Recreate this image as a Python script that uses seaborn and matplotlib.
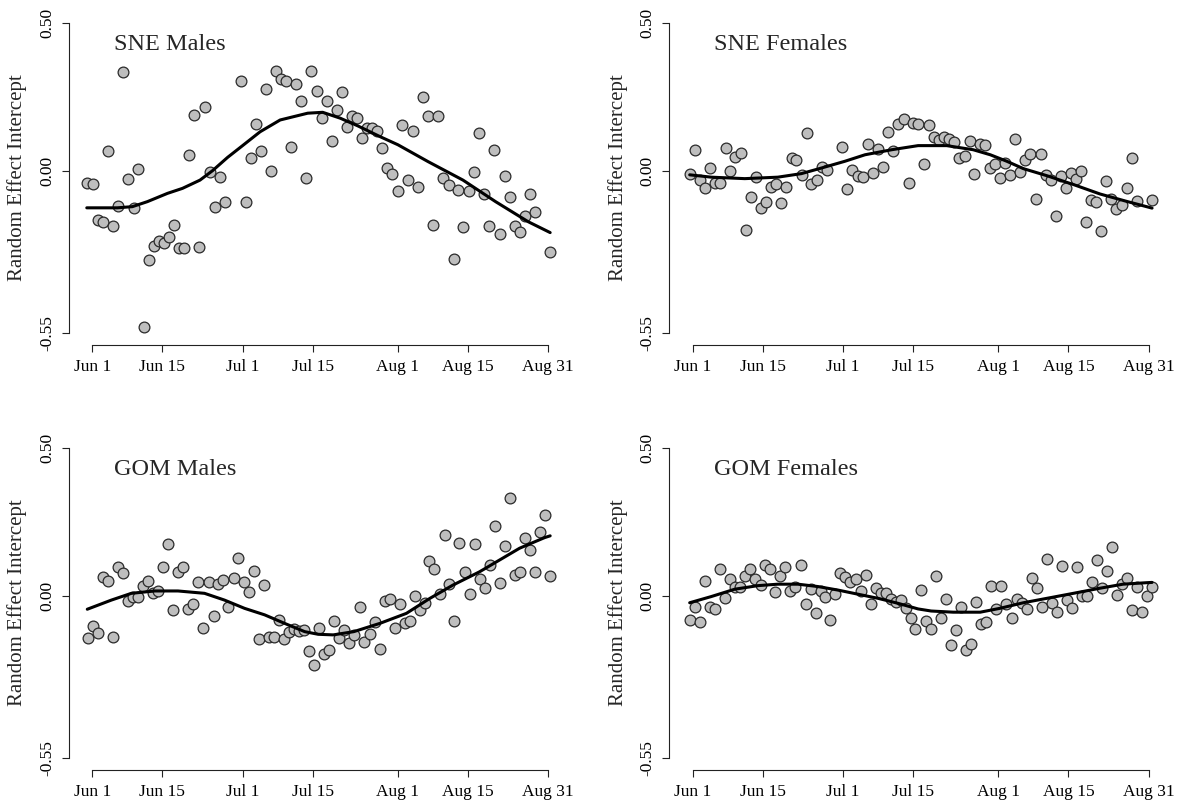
import numpy as np
import pandas as pd
import matplotlib
matplotlib.use("Agg")
import matplotlib.pyplot as plt
import seaborn as sns

# ---------------- data (day 0 = Jun 1) ----------------
tick_days = [0, 14, 30, 44, 61, 75, 91]
tick_labels = ["Jun 1", "Jun 15", "Jul 1", "Jul 15", "Aug 1", "Aug 15", "Aug 31"]
ytick_vals = [-0.55, 0.0, 0.5]
ytick_labels = ["-0.55", "0.00", "0.50"]
panel_titles = ["SNE Males", "SNE Females", "GOM Males", "GOM Females"]
ylabel_text = "Random Effect Intercept"

sne_m_day = [-1.1, 0.1, 1.1, 2.1, 3.2, 4.1, 5.2, 6.2, 7.2, 8.3,
             9.2, 10.3, 11.3, 12.3, 13.3, 14.3, 15.3, 16.4, 17.4, 18.4,
             19.4, 20.4, 21.4, 22.4, 23.5, 24.5, 25.5, 26.5, 29.7, 30.6,
             31.6, 32.6, 33.6, 34.6, 35.6, 36.6, 37.6, 38.7, 39.7, 40.7,
             41.7, 42.7, 43.7, 44.8, 45.8, 46.8, 47.8, 48.8, 49.8, 50.8,
             51.8, 52.8, 53.8, 54.8, 55.9, 56.9, 57.9, 58.9, 59.9, 61.0,
             61.9, 63.0, 64.1, 65.0, 66.1, 67.1, 68.1, 69.1, 70.1, 71.2,
             72.2, 73.1, 74.1, 75.2, 76.2, 77.2, 78.2, 79.2, 80.2, 81.3,
             82.3, 83.3, 84.3, 85.3, 86.4, 87.4, 88.4, 91.4]
sne_m_val = [-0.043, -0.046, -0.167, -0.173, 0.067, -0.188, -0.119, 0.336, -0.028, -0.126,
             0.005, -0.529, -0.303, -0.254, -0.238, -0.244, -0.226, -0.183, -0.261, -0.261,
             0.052, 0.189, -0.258, 0.217, -0.003, -0.122, -0.020, -0.105, 0.304, -0.105,
             0.042, 0.158, 0.068, 0.277, -0.002, 0.339, 0.311, 0.305, 0.079, 0.294,
             0.237, -0.026, 0.339, 0.270, 0.180, 0.236, 0.102, 0.206, 0.268, 0.147,
             0.186, 0.180, 0.112, 0.144, 0.146, 0.136, 0.078, 0.008, -0.010, -0.069,
             0.155, -0.032, 0.135, -0.054, 0.249, 0.187, -0.184, 0.187, -0.026, -0.049,
             -0.301, -0.065, -0.190, -0.069, -0.003, 0.129, -0.079, -0.187, 0.071, -0.215,
             -0.017, -0.090, -0.188, -0.208, -0.153, -0.078, -0.140, -0.275]
sne_m_fit_day = [-1.1, 5, 8, 11, 15, 18, 21.5, 24, 27, 30, 33.5, 37.5, 43, 46, 49.5,
                 53, 57.5, 61, 67, 74, 80.5, 87, 91.4]
sne_m_fit_val = [-0.126, -0.126, -0.122, -0.105, -0.077, -0.060, -0.032, 0.000, 0.045,
                 0.085, 0.132, 0.172, 0.195, 0.198, 0.178, 0.152, 0.115, 0.088, 0.031,
                 -0.032, -0.105, -0.173, -0.210]

sne_f_day = [-0.6, 0.4, 1.4, 2.5, 3.4, 4.5, 5.5, 6.6, 7.5, 8.5,
             9.6, 10.6, 11.7, 12.7, 13.6, 14.6, 15.7, 16.7, 17.7, 18.7,
             19.8, 20.7, 21.8, 22.8, 23.7, 24.8, 25.9, 26.9, 29.9, 30.9,
             31.9, 32.9, 33.9, 34.9, 35.9, 37.0, 38.0, 38.9, 40.0, 41.0,
             42.1, 43.1, 44.0, 45.0, 46.1, 47.1, 48.1, 49.1, 50.2, 51.2,
             52.2, 53.2, 54.3, 55.3, 56.2, 57.3, 58.3, 59.3, 60.3, 61.3,
             62.4, 63.3, 64.4, 65.4, 66.4, 67.4, 68.5, 69.5, 70.5, 71.5,
             72.5, 73.5, 74.5, 75.5, 76.5, 77.6, 78.5, 79.5, 80.6, 81.6,
             82.6, 83.6, 84.6, 85.6, 86.6, 87.7, 88.7, 91.7]
sne_f_val = [-0.011, 0.071, -0.031, -0.059, 0.009, -0.042, -0.042, 0.077, 0.000, 0.045,
             0.060, -0.200, -0.088, -0.022, -0.127, -0.106, -0.054, -0.046, -0.110, -0.055,
             0.043, 0.036, -0.014, 0.128, -0.045, -0.031, 0.012, 0.001, 0.080, -0.061,
             0.001, -0.019, -0.020, 0.091, -0.007, 0.075, 0.012, 0.132, 0.068, 0.159,
             0.176, -0.042, 0.163, 0.159, 0.024, 0.156, 0.113, 0.103, 0.113, 0.109,
             0.097, 0.043, 0.051, 0.102, -0.012, 0.092, 0.088, 0.009, 0.023, -0.026,
             0.026, -0.014, 0.108, -0.005, 0.035, 0.057, -0.095, 0.058, -0.014, -0.031,
             -0.155, -0.019, -0.058, -0.009, -0.028, -0.002, -0.173, -0.099, -0.105, -0.206,
             -0.034, -0.095, -0.129, -0.117, -0.059, 0.044, -0.102, -0.098]
sne_f_fit_day = [-0.6, 3.7, 10.4, 17, 21.7, 25.7, 30.4, 34.4, 39.7, 45, 50.7, 56,
                 59.4, 62.7, 66, 70.7, 76, 81.3, 86.6, 91.7]
sne_f_fit_val = [-0.014, -0.022, -0.027, -0.022, -0.010, 0.009, 0.032, 0.054, 0.071,
                 0.085, 0.085, 0.071, 0.054, 0.032, 0.007, -0.017, -0.047, -0.079,
                 -0.104, -0.127]

gom_m_day = [-0.9, 0.1, 1.1, 2.1, 3.1, 4.1, 5.1, 6.1, 7.1, 8.1,
             9.1, 10.1, 11.1, 12.1, 13.1, 14.1, 15.1, 16.2, 17.2, 18.2,
             19.2, 20.2, 21.2, 22.1, 23.2, 24.2, 25.1, 26.1, 27.1, 28.2,
             29.1, 30.2, 31.2, 32.2, 33.2, 34.3, 35.3, 36.3, 37.3, 38.3,
             39.3, 40.3, 41.3, 42.3, 43.3, 44.3, 45.3, 46.3, 47.3, 48.3,
             49.3, 50.2, 51.2, 52.2, 53.4, 54.2, 55.4, 56.4, 57.4, 58.4,
             59.4, 60.4, 61.4, 62.4, 63.4, 64.4, 65.4, 66.4, 67.3, 68.3,
             69.4, 70.4, 71.3, 72.3, 73.3, 74.3, 75.3, 76.4, 77.4, 78.4,
             79.4, 80.4, 81.4, 82.4, 83.4, 84.4, 85.4, 86.4, 87.4, 88.4,
             89.4, 90.4, 91.4]
gom_m_val = [-0.145, -0.103, -0.126, 0.064, 0.051, -0.139, 0.096, 0.076, -0.018, -0.003,
             -0.003, 0.033, 0.051, 0.010, 0.016, 0.098, 0.175, -0.047, 0.079, 0.096,
             -0.045, -0.029, 0.047, -0.109, 0.047, -0.068, 0.039, 0.053, -0.038, 0.059,
             0.128, 0.047, 0.012, 0.085, -0.147, 0.037, -0.139, -0.139, -0.081, -0.146,
             -0.122, -0.113, -0.119, -0.117, -0.188, -0.236, -0.109, -0.199, -0.184, -0.085,
             -0.145, -0.116, -0.161, -0.133, -0.037, -0.156, -0.130, -0.090, -0.181, -0.017,
             -0.012, -0.109, -0.028, -0.094, -0.085, 0.000, -0.049, -0.026, 0.118, 0.090,
             0.005, 0.206, 0.040, -0.085, 0.178, 0.081, 0.005, 0.174, 0.057, 0.025,
             0.104, 0.236, 0.044, 0.170, 0.330, 0.070, 0.079, 0.195, 0.155, 0.079,
             0.215, 0.274, 0.068]
gom_m_fit_day = [-1.0, 3.8, 7.8, 12.5, 17.1, 22.4, 26.4, 30.4, 34.4, 38.4, 42.4, 45.1,
                 48.1, 52.2, 57.4, 62.7, 67.4, 72, 77.3, 81.3, 85.3, 90.3, 91.4]
gom_m_fit_val = [-0.046, -0.015, 0.008, 0.016, 0.016, 0.008, -0.015, -0.043, -0.065,
                 -0.094, -0.122, -0.131, -0.133, -0.122, -0.094, -0.060, -0.009, 0.036,
                 0.081, 0.121, 0.161, 0.197, 0.203]

gom_f_day = [-0.6, 0.4, 1.4, 2.5, 3.4, 4.4, 5.4, 6.5, 7.5, 8.5,
             9.5, 10.5, 11.5, 12.5, 13.6, 14.5, 15.5, 16.5, 17.5, 18.5,
             19.5, 20.5, 21.6, 22.6, 23.6, 24.6, 25.6, 26.5, 27.5, 28.5,
             29.5, 30.5, 31.5, 32.5, 33.5, 34.6, 35.6, 36.6, 37.6, 38.6,
             39.6, 40.6, 41.6, 42.6, 43.6, 44.4, 45.6, 46.6, 47.6, 48.5,
             49.6, 50.6, 51.6, 52.6, 53.6, 54.6, 55.6, 56.6, 57.6, 58.6,
             59.6, 60.6, 61.6, 62.6, 63.7, 64.7, 65.7, 66.7, 67.7, 68.7,
             69.7, 70.7, 71.7, 72.7, 73.7, 74.7, 75.7, 76.7, 77.7, 78.7,
             79.7, 80.7, 81.7, 82.7, 83.7, 84.7, 85.7, 86.7, 87.7, 88.7,
             89.7, 90.7, 91.7]
gom_f_val = [-0.082, -0.037, -0.088, 0.051, -0.037, -0.045, 0.090, -0.007, 0.056, 0.028,
             0.031, 0.068, 0.090, 0.056, 0.036, 0.104, 0.090, 0.014, 0.068, 0.096,
             0.017, 0.028, 0.104, -0.029, 0.022, -0.060, 0.017, -0.003, -0.082, 0.006,
             0.076, 0.064, 0.047, 0.056, 0.016, 0.070, -0.029, 0.025, 0.010, 0.010,
             -0.012, -0.022, -0.015, -0.042, -0.077, -0.114, 0.018, -0.086, -0.112, 0.068,
             -0.075, -0.012, -0.167, -0.116, -0.037, -0.184, -0.165, -0.020, -0.097, -0.088,
             0.033, -0.046, 0.033, -0.029, -0.077, -0.011, -0.026, -0.045, 0.059, 0.025,
             -0.037, 0.123, -0.024, -0.056, 0.102, -0.015, -0.043, 0.098, 0.000, -0.001,
             0.047, 0.121, 0.025, 0.085, 0.166, 0.002, 0.039, 0.059, -0.049, 0.031,
             -0.056, 0.000, 0.028]
gom_f_fit_day = [-0.6, 3.7, 8.4, 13, 17, 21, 25, 29, 33, 37, 41, 45, 47.6, 52, 57.4,
                 61.3, 66, 70.7, 76, 81.2, 85.9, 90.6, 91.7]
gom_f_fit_val = [-0.024, -0.003, 0.022, 0.034, 0.039, 0.039, 0.031, 0.019, 0.005, -0.009,
                 -0.026, -0.045, -0.052, -0.056, -0.056, -0.043, -0.024, -0.009, 0.008,
                 0.025, 0.039, 0.044, 0.045]

panels = [
    (sne_m_day, sne_m_val, sne_m_fit_day, sne_m_fit_val),
    (sne_f_day, sne_f_val, sne_f_fit_day, sne_f_fit_val),
    (gom_m_day, gom_m_val, gom_m_fit_day, gom_m_fit_val),
    (gom_f_day, gom_f_val, gom_f_fit_day, gom_f_fit_val),
]

# ---------------- style ----------------
sns.set_style("ticks")
plt.rcParams["font.family"] = ["Liberation Serif", "DejaVu Serif"]
plt.rcParams["axes.linewidth"] = 0.8
plt.rcParams["xtick.major.width"] = 0.8
plt.rcParams["ytick.major.width"] = 0.8

W, H = 1191, 806
fig = plt.figure(figsize=(W / 100, H / 100), dpi=100)

# pixel layout of each plot region: (left, top)
ax_w, ax_h = 500.7, 334.3
origins = [(69.0, 10.9), (669.4, 10.9), (69.0, 435.9), (669.4, 435.9)]

for (day, val, fday, fval), title, (lx, ty) in zip(panels, panel_titles, origins):
    ax = fig.add_axes([lx / W, 1 - (ty + ax_h) / H, ax_w / W, ax_h / H])
    pts = pd.DataFrame({"day": day, "value": val})
    fit = pd.DataFrame({"day": fday, "value": fval})
    sns.scatterplot(data=pts, x="day", y="value", ax=ax, s=60, color="#bebebe",
                    edgecolor="#2a2a2a", linewidth=0.9, zorder=2, legend=False)
    sns.lineplot(data=fit, x="day", y="value", ax=ax, color="black", linewidth=2.2,
                 estimator=None, sort=False, zorder=3, legend=False)
    ax.set_xlim(-4.65, 95.3)
    ax.set_ylim(-0.592, 0.542)
    ax.set_xticks(tick_days)
    ax.set_xticklabels(tick_labels, fontsize=12.5)
    ax.set_yticks(ytick_vals)
    ax.set_yticklabels(ytick_labels, rotation=90, va="center", fontsize=12.5)
    ax.tick_params(axis="both", direction="out", length=5, color="#222222",
                   labelcolor="black")
    ax.tick_params(axis="x", pad=5)
    ax.tick_params(axis="y", pad=5)
    for s in ("top", "right"):
        ax.spines[s].set_visible(False)
    ax.spines["left"].set_bounds(-0.55, 0.5)
    ax.spines["bottom"].set_bounds(0, 91)
    ax.spines["left"].set_color("#222222")
    ax.spines["bottom"].set_color("#222222")
    ax.set_xlabel("")
    ax.set_ylabel("")
    ax.text(4.3, 0.41, title, fontsize=17.5, ha="left", va="baseline")
    fig.text((lx - 51.5) / W, 1 - (ty + ax_h / 2) / H, ylabel_text, rotation=90,
             ha="center", va="center", fontsize=15)

fig.savefig("out.png", dpi=100)
